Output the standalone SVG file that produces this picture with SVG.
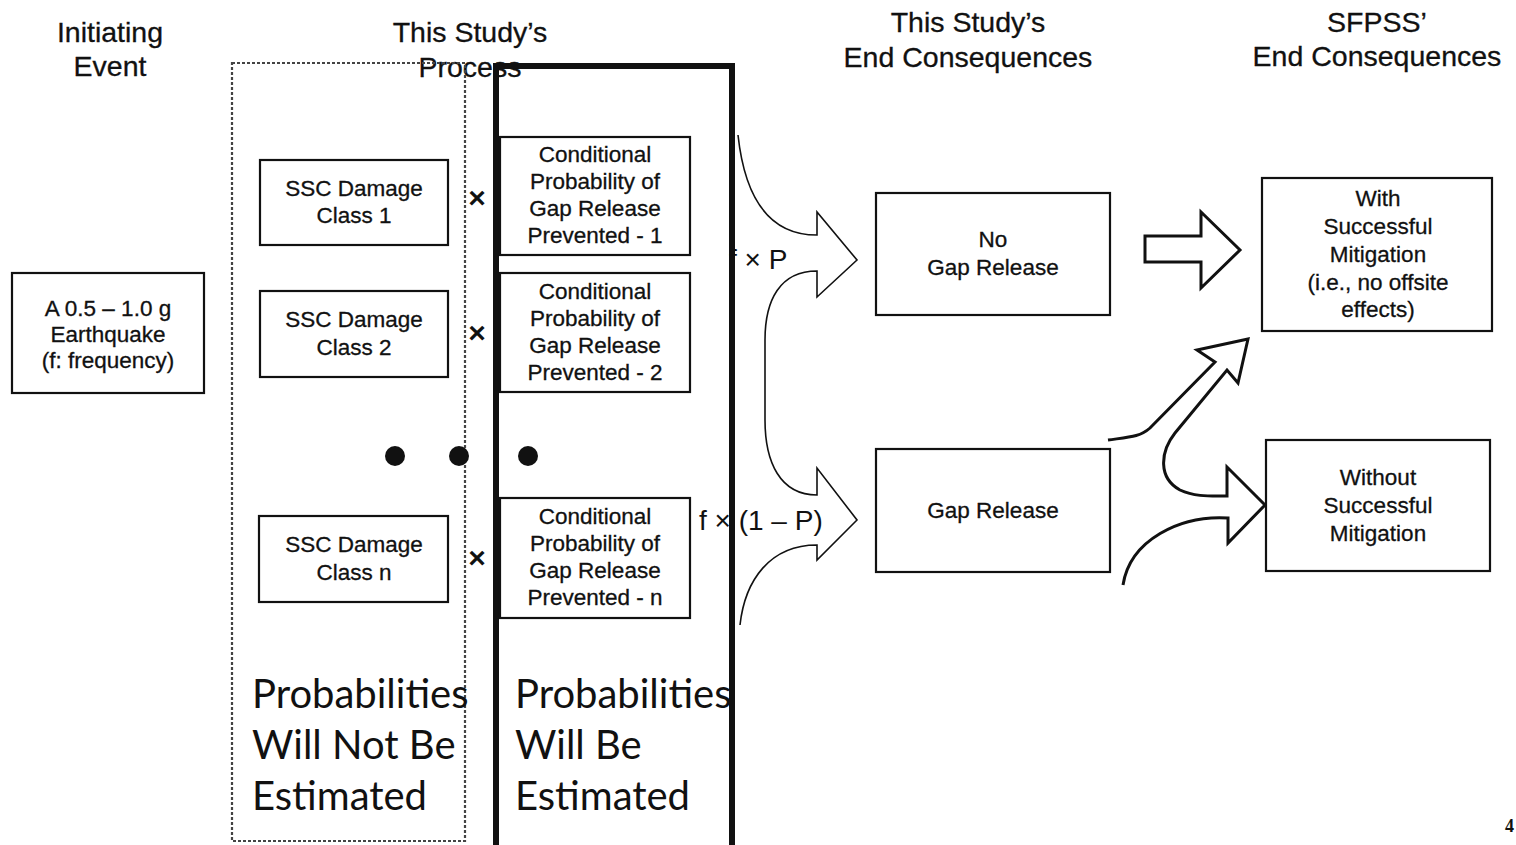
<svg xmlns="http://www.w3.org/2000/svg" width="1516" height="845" viewBox="0 0 1516 845">
<style>
.bx{fill:#fff;stroke:#111;stroke-width:2.2}
.t{font-family:"Liberation Sans",Arial,sans-serif;font-size:22.5px;fill:#111;text-anchor:middle;stroke:#111;stroke-width:0.3}
.h{font-family:"Liberation Sans",Arial,sans-serif;font-size:28.5px;fill:#111;text-anchor:middle;stroke:#111;stroke-width:0.3}
.big{font-family:Lato,"Open Sans",sans-serif;font-size:40px;fill:#111}
.ar{fill:none;stroke:#111;stroke-width:1.6;stroke-linejoin:miter}
.ar2{fill:none;stroke:#111;stroke-width:3;stroke-linejoin:miter}
.x{font-family:"Liberation Sans",Arial,sans-serif;font-size:30px;font-weight:bold;fill:#111;text-anchor:middle}
.lb{font-family:"Liberation Sans",Arial,sans-serif;font-size:28px;fill:#111}
</style>
<rect width="1516" height="845" fill="#fff"/>
<g id="headers">
<text class="h" x="110" y="42">Initiating</text>
<text class="h" x="110" y="76">Event</text>
<text class="h" x="470" y="42">This Study’s</text>
<text class="h" x="470" y="77">Process</text>
<text class="h" x="968" y="32">This Study’s</text>
<text class="h" x="968" y="67">End Consequences</text>
<text class="h" x="1377" y="32">SFPSS’</text>
<text class="h" x="1377" y="66">End Consequences</text>
</g>
<g id="labels">
<text class="lb" x="729" y="269">f × P</text>
<text class="lb" x="699" y="530">f × (1 – P)</text>
</g>
<g id="frames">
<rect x="232" y="63" width="233" height="778" fill="none" stroke="#444" stroke-width="2.2" stroke-dasharray="3,2"/>
<rect x="496" y="66" width="236" height="790" fill="none" stroke="#111" stroke-width="6"/>
</g>
<g id="ie"><rect class="bx" x="12" y="273" width="192" height="120"/>
<text class="t" x="108" y="316" font-size="21">A 0.5 – 1.0 g</text>
<text class="t" x="108" y="342" font-size="21">Earthquake</text>
<text class="t" x="108" y="368" font-size="21">(f: frequency)</text></g>
<g id="ssc1"><rect class="bx" x="260" y="160" width="188" height="85"/>
<text class="t" x="354" y="196">SSC Damage</text><text class="t" x="354" y="223">Class 1</text></g>
<g id="ssc2"><rect class="bx" x="260" y="291" width="188" height="86"/>
<text class="t" x="354" y="327">SSC Damage</text><text class="t" x="354" y="355">Class 2</text></g>
<g id="sscn"><rect class="bx" x="259" y="516" width="189" height="86"/>
<text class="t" x="354" y="552">SSC Damage</text><text class="t" x="354" y="580">Class n</text></g>
<g id="cp1"><rect class="bx" x="500" y="137" width="190" height="118"/>
<text class="t" x="595" y="162">Conditional</text><text class="t" x="595" y="189">Probability of</text><text class="t" x="595" y="216">Gap Release</text><text class="t" x="595" y="243">Prevented - 1</text></g>
<g id="cp2"><rect class="bx" x="500" y="273" width="190" height="119"/>
<text class="t" x="595" y="299">Conditional</text><text class="t" x="595" y="326">Probability of</text><text class="t" x="595" y="353">Gap Release</text><text class="t" x="595" y="380">Prevented - 2</text></g>
<g id="cpn"><rect class="bx" x="500" y="498" width="190" height="120"/>
<text class="t" x="595" y="524">Conditional</text><text class="t" x="595" y="551">Probability of</text><text class="t" x="595" y="578">Gap Release</text><text class="t" x="595" y="605">Prevented - n</text></g>
<g id="dots" fill="#111">
<circle cx="395" cy="456" r="10"/><circle cx="459" cy="456" r="10"/><circle cx="528" cy="456" r="10"/>
</g>
<g id="times">
<text class="x" x="477" y="208">×</text><text class="x" x="477" y="343">×</text><text class="x" x="477" y="568">×</text>
</g>
<g id="nogap"><rect class="bx" x="876" y="193" width="234" height="122"/>
<text class="t" x="993" y="247">No</text><text class="t" x="993" y="275">Gap Release</text></g>
<g id="gap"><rect class="bx" x="876" y="449" width="234" height="123"/>
<text class="t" x="993" y="518">Gap Release</text></g>
<g id="with"><rect class="bx" x="1262" y="178" width="230" height="153"/>
<text class="t" x="1378" y="206">With</text><text class="t" x="1378" y="234">Successful</text><text class="t" x="1378" y="262">Mitigation</text><text class="t" x="1378" y="290">(i.e., no offsite</text><text class="t" x="1378" y="317">effects)</text></g>
<g id="without"><rect class="bx" x="1266" y="440" width="224" height="131"/>
<text class="t" x="1378" y="485">Without</text><text class="t" x="1378" y="513">Successful</text><text class="t" x="1378" y="541">Mitigation</text></g>
<g id="connectors">
<path class="ar" d="M738,135 C745,200 770,235 817,235 L817,212 L857,260 L817,297 L817,271 C780,271 765,300 765,340 L765,420 C765,462 780,495 817,495 L817,468 L857,520 L817,560 L817,545 C770,545 745,580 740,625"/>
<path class="ar2" d="M1145,236 L1201,236 L1201,212 L1240,250 L1201,288 L1201,262 L1145,262 Z"/>
<path class="ar2" d="M1108,440 C1130,437 1140,437 1150,428 L1215,362 L1197,350 L1248,339 L1238,383 L1227,370 L1175,433 C1160,452 1158,478 1180,490 C1195,497 1210,496 1227,496 L1227,467 L1265,505 L1228,543 L1228,518 C1180,515 1130,540 1123,585"/>
</g>
<g id="bigtext">
<text class="big" x="252" y="708">Probabilities</text>
<text class="big" x="252" y="759">Will Not Be</text>
<text class="big" x="252" y="810">Estimated</text>
<text class="big" x="515" y="708">Probabilities</text>
<text class="big" x="515" y="759">Will Be</text>
<text class="big" x="515" y="810">Estimated</text>
</g>
<text x="1505" y="832" font-family="'Liberation Serif',serif" font-size="18" font-weight="bold" fill="#111">4</text>
</svg>
